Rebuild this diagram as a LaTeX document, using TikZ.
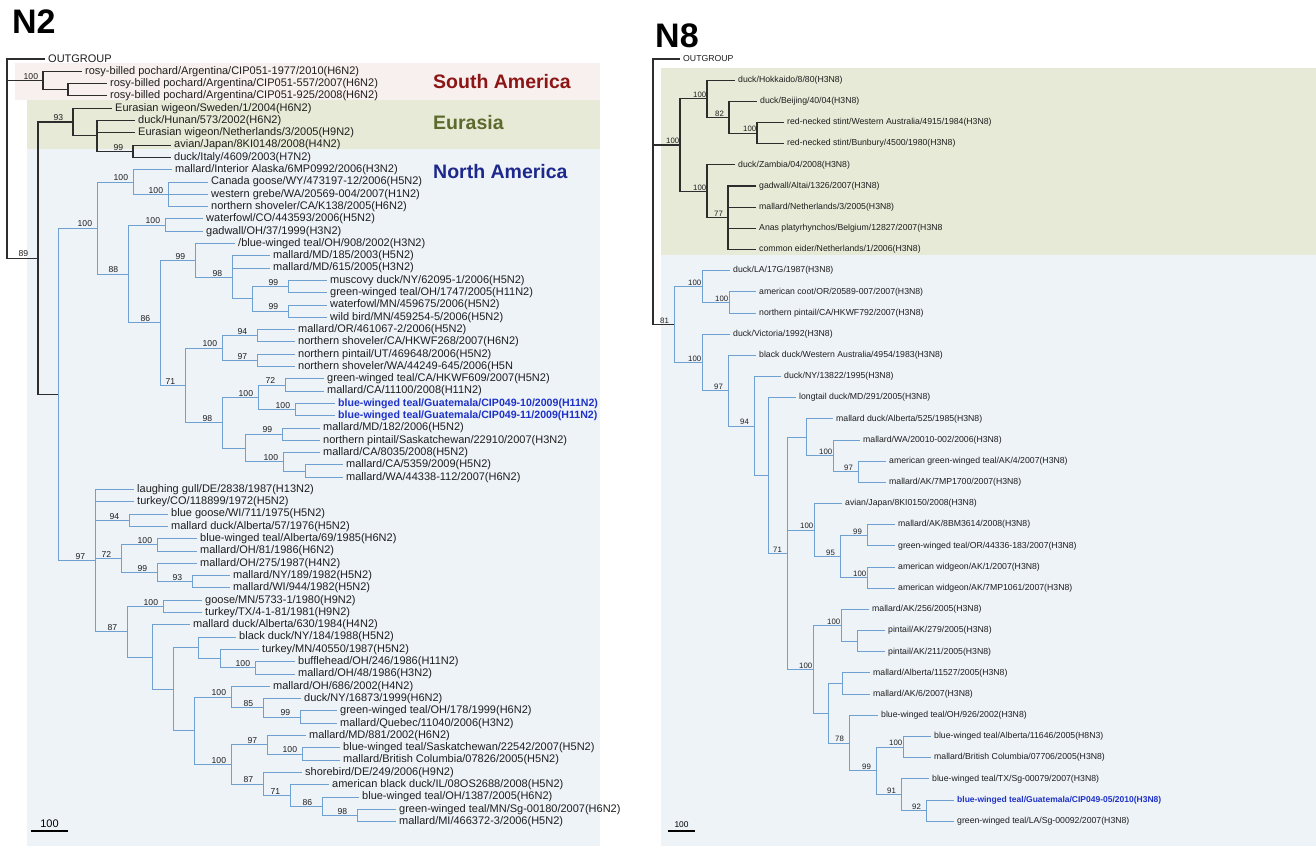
\documentclass[tikz,border=0pt]{standalone}
\usepackage{fontspec}
\setmainfont{Liberation Sans}
\definecolor{cLine}{RGB}{45,45,45}
\definecolor{cBlue}{RGB}{110,160,210}
\definecolor{cText}{RGB}{30,30,30}
\definecolor{cHi}{RGB}{30,50,200}
\definecolor{cPink}{RGB}{248,240,238}
\definecolor{cGreen}{RGB}{230,234,214}
\definecolor{cSky}{RGB}{238,243,248}
\definecolor{cSA}{RGB}{140,22,22}
\definecolor{cEU}{RGB}{92,106,45}
\definecolor{cNA}{RGB}{28,40,140}
\newcommand\LA[3]{\node[lfa] (a#1) at (#2,#1) {#3};}
\newcommand\LB[3]{\node[lfb] (b#1) at (#2,#1) {#3};}
\newcommand\BA[2]{\node[bsa] (#1l) at ([xshift=-19.5pt,yshift=1.2pt]#1) {#2};}
\newcommand\BB[2]{\node[bsb] (#1l) at ([xshift=-14pt,yshift=1.2pt]#1) {#2};}
\begin{document}
\begin{tikzpicture}[x=1pt,y=-1pt,
  blk/.style={draw=cLine, line width=1.1pt},
  blu/.style={draw=cBlue, line width=0.9pt},
  lfa/.style={anchor=west, inner xsep=3pt, inner ysep=0.5pt, text=cText, font=\fontsize{11}{12}\selectfont},
  lfb/.style={lfa, font=\fontsize{8.7}{10}\selectfont},
  hia/.style={lfa, text=cHi, font=\fontsize{10.6}{12}\selectfont\bfseries},
  hib/.style={lfb, text=cHi, font=\fontsize{8.5}{10}\selectfont\bfseries},
  bsa/.style={anchor=base west, inner sep=0pt, text=cText, font=\fontsize{8.6}{9}\selectfont},
  bsb/.style={bsa, font=\fontsize{7.8}{9}\selectfont},
  region/.style={anchor=west, inner sep=0pt, font=\fontsize{19.5}{20}\selectfont\bfseries},
  ttl/.style={anchor=west, inner sep=0pt, text=black, font=\fontsize{34}{34}\selectfont\bfseries}
]
\useasboundingbox[fill=white] (0,0) rectangle (1316,850);
% ---------- bands ----------
\fill[cPink] (15,63) rectangle (600,100);
\fill[cGreen] (27,100) rectangle (600,149);
\fill[cSky] (27,149) rectangle (600,846);
\fill[cGreen] (661,68) rectangle (1316,255);
\fill[cSky] (661,255) rectangle (1316,846);
% ---------- titles and regions ----------
\node[ttl] (t2) at (12,22) {N2};
\node[ttl] (t8) at (655,36) {N8};
\node[region, text=cSA] (rSA) at (433,82) {South America};
\node[region, text=cEU] (rEU) at (433,123) {Eurasia};
\node[region, text=cNA] (rNA) at (433,172) {North America};
% ---------- scale bars ----------
\coordinate (sa1) at (31,831); \coordinate (sa2) at (68,831);
\draw[draw=black, line width=1.1pt] (sa1) -- (sa2);
\node[anchor=south, inner sep=1pt, font=\fontsize{11}{12}\selectfont] (sal) at (49.5,829) {100};
\coordinate (sb1) at (668,831); \coordinate (sb2) at (695,831);
\draw[draw=black, line width=1.1pt] (sb1) -- (sb2);
\node[anchor=south, inner sep=1pt, font=\fontsize{8.4}{9}\selectfont] (sbl) at (681.5,829) {100};

% ================= N2 tree =================
\begin{scope}[yshift=-46.7pt, y=-12.3pt]
\LA{1}{45}{OUTGROUP}
\LA{2}{82}{rosy-billed pochard/Argentina/CIP051-1977/2010(H6N2)}
\LA{3}{107}{rosy-billed pochard/Argentina/CIP051-557/2007(H6N2)}
\LA{4}{107}{rosy-billed pochard/Argentina/CIP051-925/2008(H6N2)}
\LA{5}{112}{Eurasian wigeon/Sweden/1/2004(H6N2)}
\LA{6}{135}{duck/Hunan/573/2002(H6N2)}
\LA{7}{135}{Eurasian wigeon/Netherlands/3/2005(H9N2)}
\LA{8}{171}{avian/Japan/8KI0148/2008(H4N2)}
\LA{9}{171}{duck/Italy/4609/2003(H7N2)}
\LA{10}{172}{mallard/Interior Alaska/6MP0992/2006(H3N2)}
\LA{11}{208}{Canada goose/WY/473197-12/2006(H5N2)}
\LA{12}{208}{western grebe/WA/20569-004/2007(H1N2)}
\LA{13}{208}{northern shoveler/CA/K138/2005(H6N2)}
\LA{14}{203}{waterfowl/CO/443593/2006(H5N2)}
\LA{15}{203}{gadwall/OH/37/1999(H3N2)}
\LA{16}{235}{/blue-winged teal/OH/908/2002(H3N2)}
\LA{17}{270}{mallard/MD/185/2003(H5N2)}
\LA{18}{270}{mallard/MD/615/2005(H3N2)}
\LA{19}{327}{muscovy duck/NY/62095-1/2006(H5N2)}
\LA{20}{327}{green-winged teal/OH/1747/2005(H11N2)}
\LA{21}{327}{waterfowl/MN/459675/2006(H5N2)}
\LA{22}{327}{wild bird/MN/459254-5/2006(H5N2)}
\LA{23}{295}{mallard/OR/461067-2/2006(H5N2)}
\LA{24}{295}{northern shoveler/CA/HKWF268/2007(H6N2)}
\LA{25}{295}{northern pintail/UT/469648/2006(H5N2)}
\LA{26}{295}{northern shoveler/WA/44249-645/2006(H5N}
\LA{27}{324}{green-winged teal/CA/HKWF609/2007(H5N2)}
\LA{28}{324}{mallard/CA/11100/2008(H11N2)}
\node[hia] (a29) at (335,29) {blue-winged teal/Guatemala/CIP049-10/2009(H11N2)};
\node[hia] (a30) at (335,30) {blue-winged teal/Guatemala/CIP049-11/2009(H11N2)};
\LA{31}{320}{mallard/MD/182/2006(H5N2)}
\LA{32}{320}{northern pintail/Saskatchewan/22910/2007(H3N2)}
\LA{33}{320}{mallard/CA/8035/2008(H5N2)}
\LA{34}{343}{mallard/CA/5359/2009(H5N2)}
\LA{35}{343}{mallard/WA/44338-112/2007(H6N2)}
\LA{36}{134}{laughing gull/DE/2838/1987(H13N2)}
\LA{37}{134}{turkey/CO/118899/1972(H5N2)}
\LA{38}{168}{blue goose/WI/711/1975(H5N2)}
\LA{39}{168}{mallard duck/Alberta/57/1976(H5N2)}
\LA{40}{197}{blue-winged teal/Alberta/69/1985(H6N2)}
\LA{41}{197}{mallard/OH/81/1986(H6N2)}
\LA{42}{197}{mallard/OH/275/1987(H4N2)}
\LA{43}{230}{mallard/NY/189/1982(H5N2)}
\LA{44}{230}{mallard/WI/944/1982(H5N2)}
\LA{45}{202}{goose/MN/5733-1/1980(H9N2)}
\LA{46}{202}{turkey/TX/4-1-81/1981(H9N2)}
\LA{47}{190}{mallard duck/Alberta/630/1984(H4N2)}
\LA{48}{236}{black duck/NY/184/1988(H5N2)}
\LA{49}{259}{turkey/MN/40550/1987(H5N2)}
\LA{50}{295}{bufflehead/OH/246/1986(H11N2)}
\LA{51}{295}{mallard/OH/48/1986(H3N2)}
\LA{52}{270}{mallard/OH/686/2002(H4N2)}
\LA{53}{301}{duck/NY/16873/1999(H6N2)}
\LA{54}{337}{green-winged teal/OH/178/1999(H6N2)}
\LA{55}{337}{mallard/Quebec/11040/2006(H3N2)}
\LA{56}{306}{mallard/MD/881/2002(H6N2)}
\LA{57}{340}{blue-winged teal/Saskatchewan/22542/2007(H5N2)}
\LA{58}{340}{mallard/British Columbia/07826/2005(H5N2)}
\LA{59}{302}{shorebird/DE/249/2006(H9N2)}
\LA{60}{329}{american black duck/IL/08OS2688/2008(H5N2)}
\LA{61}{359}{blue-winged teal/OH/1387/2005(H6N2)}
\LA{62}{396}{green-winged teal/MN/Sg-00180/2007(H6N2)}
\LA{63}{396}{mallard/MI/466372-3/2006(H5N2)}
% internal nodes
\coordinate (aroot) at (7,9.1);
\coordinate (aR) at (43,2.75);
\coordinate (aR2) at (68,3.5);
\coordinate (a89) at (38,17.19);
\coordinate (aE) at (73,6.125);
\coordinate (aE2) at (97,7.25);
\coordinate (aE99) at (133,8.5);
\coordinate (aNA) at (58,28.26);
\coordinate (aU) at (97,14.74);
\coordinate (aA) at (133,11);
\coordinate (aA1) at (168,12);
\coordinate (aB88) at (128,18.48);
\coordinate (aB) at (165,14.5);
\coordinate (aC86) at (160,22.45);
\coordinate (aC99) at (195,17.375);
\coordinate (aC98) at (232,18.75);
\coordinate (aC2) at (252,20.5);
\coordinate (aC99a) at (288,19.5);
\coordinate (aC99b) at (288,21.5);
\coordinate (aD71) at (185,27.53);
\coordinate (aD100) at (222,24.5);
\coordinate (aD94) at (257,23.5);
\coordinate (aD97) at (257,25.5);
\coordinate (aF98) at (222,30.56);
\coordinate (aF100b) at (258,28.5);
\coordinate (aF72) at (285,27.5);
\coordinate (aF100) at (295,29.5);
\coordinate (aG) at (245,32.625);
\coordinate (aG99) at (282,31.5);
\coordinate (aG100) at (283,33.75);
\coordinate (aGp) at (305,34.5);
\coordinate (aL) at (95,41.78);
\coordinate (aL94) at (129,38.5);
\coordinate (aL72) at (121,41.625);
\coordinate (aL100a) at (157,40.5);
\coordinate (aL99) at (157,42.75);
\coordinate (aL93) at (192,43.5);
\coordinate (aM87) at (127,47.56);
\coordinate (aM100) at (163,45.5);
\coordinate (aM2) at (152,49.62);
\coordinate (aMN) at (173,52.24);
\coordinate (aMc) at (198,48.875);
\coordinate (aMb) at (220,49.75);
\coordinate (aMa100) at (255,50.5);
\coordinate (aNP) at (194,55.61);
\coordinate (aN100) at (231,52.875);
\coordinate (aN85) at (263,53.75);
\coordinate (aN99) at (300,54.5);
\coordinate (aP100b) at (231,58.34);
\coordinate (aP97) at (267,56.75);
\coordinate (aP100) at (302,57.5);
\coordinate (aQ87) at (263,59.94);
\coordinate (aQ71) at (290,60.875);
\coordinate (aQ86) at (322,61.75);
\coordinate (aQ98) at (357,62.5);
% edges
\foreach \p/\c in {aroot/a1,aroot/aR,aroot/a89,aR/a2,aR/aR2,aR2/a3,aR2/a4,
  a89/aE,a89/aNA,aE/a5,aE/aE2,aE2/a6,aE2/a7,aE2/aE99,aE99/a8,aE99/a9}
  \draw[blk] (\p) |- (\c);
\foreach \p/\c in {aNA/aU,aNA/aL,aU/aA,aU/aB88,aA/a10,aA/aA1,aA1/a11,aA1/a12,aA1/a13,
  aB88/aB,aB88/aC86,aB/a14,aB/a15,aC86/aC99,aC86/aD71,aC99/a16,aC99/aC98,
  aC98/a17,aC98/a18,aC98/aC2,aC2/aC99a,aC2/aC99b,aC99a/a19,aC99a/a20,aC99b/a21,aC99b/a22,
  aD71/aD100,aD71/aF98,aD100/aD94,aD100/aD97,aD94/a23,aD94/a24,aD97/a25,aD97/a26,
  aF98/aF100b,aF98/aG,aF100b/aF72,aF100b/aF100,aF72/a27,aF72/a28,aF100/a29,aF100/a30,
  aG/aG99,aG/aG100,aG99/a31,aG99/a32,aG100/a33,aG100/aGp,aGp/a34,aGp/a35,
  aL/a36,aL/a37,aL/aL94,aL/aL72,aL/aM87,aL94/a38,aL94/a39,aL72/aL100a,aL72/aL99,
  aL100a/a40,aL100a/a41,aL99/a42,aL99/aL93,aL93/a43,aL93/a44,
  aM87/aM100,aM87/aM2,aM100/a45,aM100/a46,aM2/a47,aM2/aMN,aMN/aMc,aMN/aNP,
  aMc/a48,aMc/aMb,aMb/a49,aMb/aMa100,aMa100/a50,aMa100/a51,
  aNP/aN100,aNP/aP100b,aN100/a52,aN100/aN85,aN85/a53,aN85/aN99,aN99/a54,aN99/a55,
  aP100b/aP97,aP100b/aQ87,aP97/a56,aP97/aP100,aP100/a57,aP100/a58,
  aQ87/a59,aQ87/aQ71,aQ71/a60,aQ71/aQ86,aQ86/a61,aQ86/aQ98,aQ98/a62,aQ98/a63}
  \draw[blu] (\p) |- (\c);
% bootstrap values
\BA{aR}{100} \BA{aE}{93} \BA{aE99}{99} \BA{a89}{89}
\BA{aU}{100} \BA{aA}{100} \BA{aA1}{100} \BA{aB88}{88} \BA{aB}{100}
\BA{aC86}{86} \BA{aC99}{99} \BA{aC98}{98} \BA{aC99a}{99} \BA{aC99b}{99}
\BA{aD71}{71} \BA{aD100}{100} \BA{aD94}{94} \BA{aD97}{97}
\BA{aF98}{98} \BA{aF100b}{100} \BA{aF72}{72} \BA{aF100}{100}
\BA{aG99}{99} \BA{aG100}{100}
\BA{aL}{97} \BA{aL94}{94} \BA{aL72}{72} \BA{aL100a}{100} \BA{aL99}{99} \BA{aL93}{93}
\BA{aM87}{87} \BA{aM100}{100} \BA{aMa100}{100}
\BA{aN100}{100} \BA{aN85}{85} \BA{aN99}{99}
\BA{aP100b}{100} \BA{aP97}{97} \BA{aP100}{100}
\BA{aQ87}{87} \BA{aQ71}{71} \BA{aQ86}{86} \BA{aQ98}{98}
\end{scope}

% ================= N8 tree =================
\begin{scope}[yshift=-37.83pt, y=-21.17pt]
\LB{1}{680}{OUTGROUP}
\LB{2}{735}{duck/Hokkaido/8/80(H3N8)}
\LB{3}{757}{duck/Beijing/40/04(H3N8)}
\LB{4}{784}{red-necked stint/Western Australia/4915/1984(H3N8)}
\LB{5}{784}{red-necked stint/Bunbury/4500/1980(H3N8)}
\LB{6}{735}{duck/Zambia/04/2008(H3N8)}
\LB{7}{756}{gadwall/Altai/1326/2007(H3N8)}
\LB{8}{756}{mallard/Netherlands/3/2005(H3N8)}
\LB{9}{756}{Anas platyrhynchos/Belgium/12827/2007(H3N8}
\LB{10}{756}{common eider/Netherlands/1/2006(H3N8)}
\LB{11}{730}{duck/LA/17G/1987(H3N8)}
\LB{12}{756}{american coot/OR/20589-007/2007(H3N8)}
\LB{13}{756}{northern pintail/CA/HKWF792/2007(H3N8)}
\LB{14}{730}{duck/Victoria/1992(H3N8)}
\LB{15}{756}{black duck/Western Australia/4954/1983(H3N8)}
\LB{16}{781}{duck/NY/13822/1995(H3N8)}
\LB{17}{796}{longtail duck/MD/291/2005(H3N8)}
\LB{18}{833}{mallard duck/Alberta/525/1985(H3N8)}
\LB{19}{860}{mallard/WA/20010-002/2006(H3N8)}
\LB{20}{886}{american green-winged teal/AK/4/2007(H3N8)}
\LB{21}{886}{mallard/AK/7MP1700/2007(H3N8)}
\LB{22}{842}{avian/Japan/8KI0150/2008(H3N8)}
\LB{23}{895}{mallard/AK/8BM3614/2008(H3N8)}
\LB{24}{895}{green-winged teal/OR/44336-183/2007(H3N8)}
\LB{25}{895}{american widgeon/AK/1/2007(H3N8)}
\LB{26}{895}{american widgeon/AK/7MP1061/2007(H3N8)}
\LB{27}{869}{mallard/AK/256/2005(H3N8)}
\LB{28}{885}{pintail/AK/279/2005(H3N8)}
\LB{29}{885}{pintail/AK/211/2005(H3N8)}
\LB{30}{870}{mallard/Alberta/11527/2005(H3N8)}
\LB{31}{870}{mallard/AK/6/2007(H3N8)}
\LB{32}{878}{blue-winged teal/OH/926/2002(H3N8)}
\LB{33}{931}{blue-winged teal/Alberta/11646/2005(H8N3)}
\LB{34}{931}{mallard/British Columbia/07706/2005(H3N8)}
\LB{35}{929}{blue-winged teal/TX/Sg-00079/2007(H3N8)}
\node[hib] (b36) at (954,36) {blue-winged teal/Guatemala/CIP049-05/2010(H3N8)};
\LB{37}{954}{green-winged teal/LA/Sg-00092/2007(H3N8)}
% internal nodes
\coordinate (broot) at (653,7.27);
\coordinate (bE) at (680,5.0625);
\coordinate (bE100a) at (707,2.875);
\coordinate (bE82) at (729,3.75);
\coordinate (bE100s) at (757,4.5);
\coordinate (bE100b) at (707,7.25);
\coordinate (bE77) at (728,8.5);
\coordinate (b81) at (674,13.54);
\coordinate (bA100u) at (702,11.75);
\coordinate (bA100p) at (729,12.5);
\coordinate (bA100l) at (702,15.335);
\coordinate (bN97) at (728,16.67);
\coordinate (bN94) at (754,18.34);
\coordinate (bN768) at (768,20.68);
\coordinate (bN71) at (787,24.35);
\coordinate (bN806) at (806,18.875);
\coordinate (bN100c) at (833,19.75);
\coordinate (bN97p) at (858,20.5);
\coordinate (bN100av) at (814,23.25);
\coordinate (bN95) at (840,24.5);
\coordinate (bN99p) at (867,23.5);
\coordinate (bN100p) at (867,25.5);
\coordinate (bP100b) at (813,29.83);
\coordinate (bP100) at (841,27.75);
\coordinate (bPint) at (857,28.5);
\coordinate (bQ828) at (828,31.91);
\coordinate (bQpair) at (842,30.5);
\coordinate (bR78) at (849,33.31);
\coordinate (bR99) at (876,34.625);
\coordinate (bR100) at (903,33.5);
\coordinate (bR91) at (901,35.75);
\coordinate (bR92) at (926,36.5);
% edges
\foreach \p/\c in {broot/b1,broot/bE,broot/b81,bE/bE100a,bE/bE100b,bE100a/b2,bE100a/bE82,
  bE82/b3,bE82/bE100s,bE100s/b4,bE100s/b5,bE100b/b6,bE100b/bE77,
  bE77/b7,bE77/b8,bE77/b9,bE77/b10}
  \draw[blk] (\p) |- (\c);
\foreach \p/\c in {b81/bA100u,b81/bA100l,bA100u/b11,bA100u/bA100p,bA100p/b12,bA100p/b13,
  bA100l/b14,bA100l/bN97,bN97/b15,bN97/bN94,bN94/b16,bN94/bN768,bN768/b17,bN768/bN71,
  bN71/bN806,bN71/bN100av,bN71/bP100b,bN806/b18,bN806/bN100c,bN100c/b19,bN100c/bN97p,
  bN97p/b20,bN97p/b21,bN100av/b22,bN100av/bN95,bN95/bN99p,bN95/bN100p,
  bN99p/b23,bN99p/b24,bN100p/b25,bN100p/b26,bP100b/bP100,bP100b/bQ828,
  bP100/b27,bP100/bPint,bPint/b28,bPint/b29,bQ828/bQpair,bQ828/bR78,
  bQpair/b30,bQpair/b31,bR78/b32,bR78/bR99,bR99/bR100,bR99/bR91,
  bR100/b33,bR100/b34,bR91/b35,bR91/bR92,bR92/b36,bR92/b37}
  \draw[blu] (\p) |- (\c);
% bootstrap values
\BB{bE}{100} \BB{bE100a}{100} \BB{bE82}{82} \BB{bE100s}{100} \BB{bE100b}{100} \BB{bE77}{77}
\BB{b81}{81} \BB{bA100u}{100} \BB{bA100p}{100} \BB{bA100l}{100}
\BB{bN97}{97} \BB{bN94}{94} \BB{bN71}{71} \BB{bN100c}{100} \BB{bN97p}{97}
\BB{bN100av}{100} \BB{bN95}{95} \BB{bN99p}{99} \BB{bN100p}{100}
\BB{bP100b}{100} \BB{bP100}{100}
\BB{bR78}{78} \BB{bR99}{99} \BB{bR100}{100} \BB{bR91}{91} \BB{bR92}{92}
\end{scope}
\end{tikzpicture}
\end{document}
